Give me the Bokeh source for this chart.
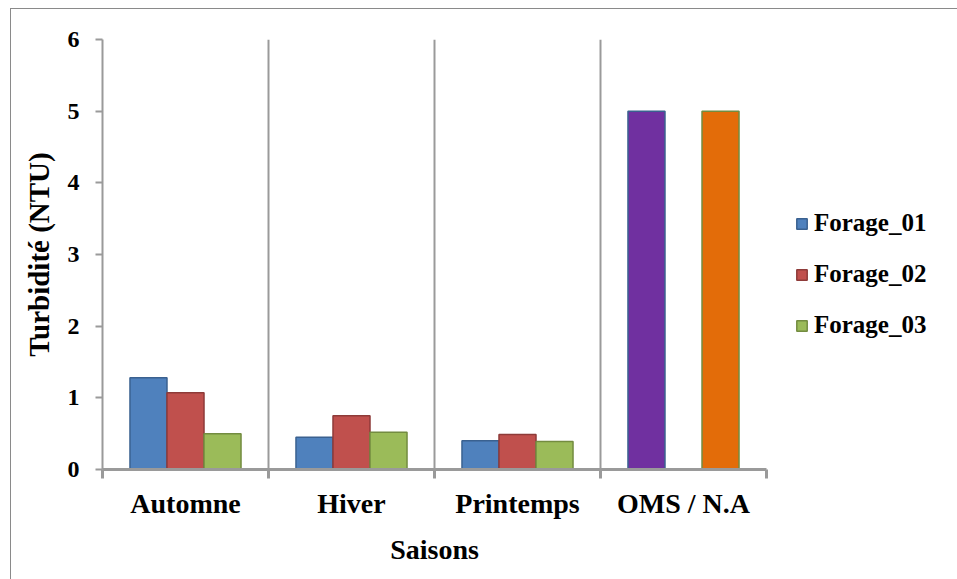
from bokeh.plotting import figure
from bokeh.models import (ColumnDataSource, Range1d, FixedTicker, Legend, LegendItem)
from bokeh.embed import file_html
from bokeh.resources import INLINE

categories = ["Automne", "Hiver", "Printemps", "OMS / N.A"]
seasons = ["Automne", "Hiver", "Printemps"]
forage_01 = [1.28, 0.45, 0.40]
forage_02 = [1.07, 0.75, 0.49]
forage_03 = [0.50, 0.52, 0.39]
norm_labels = ["OMS", "N.A"]
norm_values = [5, 5]
y_ticks = [0, 1, 2, 3, 4, 5, 6]

FONT = "Liberation Serif"
BAR_W = 0.223
GRAY = "#9a9a9a"

p = figure(frame_width=664, frame_height=430, x_range=Range1d(0, 4), y_range=Range1d(0, 6),
           output_backend="svg", toolbar_location=None,
           min_border_left=91, min_border_right=190, min_border_top=30, min_border_bottom=110)
p.margin = (8, 0, 0, 10)
p.styles = {"border-top": "1px solid #8a8a8a", "border-left": "1px solid #8a8a8a"}
p.outline_line_color = None
p.background_fill_color = "white"

series = [("Forage_01", forage_01, -BAR_W, "#4F81BD", "#3A6190"),
          ("Forage_02", forage_02, 0.0, "#C0504D", "#8E3B39"),
          ("Forage_03", forage_03, BAR_W, "#9BBB59", "#738C40")]
items = []
for name, vals, off, fc, lc in series:
    xs = [categories.index(c) + 0.5 + off for c in seasons]
    src = ColumnDataSource(dict(x=xs, top=vals))
    r = p.vbar(x="x", top="top", width=BAR_W, bottom=0, source=src,
               fill_color=fc, line_color=lc, line_width=1.5)
    items.append(LegendItem(label=name, renderers=[r]))

# norms in the last category: OMS at the first slot, N.A at the third slot
oms_i = categories.index("OMS / N.A")
norm_src = ColumnDataSource(dict(
    x=[oms_i + 0.5 - BAR_W, oms_i + 0.5 + BAR_W], top=norm_values,
    fc=["#7030A0", "#E36C09"], lc=["#3A6190", "#738C40"], lab=norm_labels))
p.vbar(x="x", top="top", width=BAR_W, bottom=0, source=norm_src,
       fill_color="fc", line_color="lc", line_width=1.5)

# axes
p.xaxis.ticker = FixedTicker(ticks=[i + 0.5 for i in range(len(categories))],
                             minor_ticks=list(range(len(categories) + 1)))
p.xaxis.major_label_overrides = {i + 0.5: c for i, c in enumerate(categories)}
p.xaxis.major_tick_line_color = None
p.xaxis.minor_tick_line_color = GRAY
p.xaxis.minor_tick_line_width = 3
p.xaxis.minor_tick_out = 9
p.xaxis.minor_tick_in = 0
p.xaxis.axis_line_color = GRAY
p.xaxis.axis_line_width = 3
p.xaxis.major_label_text_font = FONT
p.xaxis.major_label_text_font_style = "bold"
p.xaxis.major_label_text_font_size = "28px"
p.xaxis.major_label_text_color = "black"
p.xaxis.major_label_standoff = 9
p.xaxis.axis_label = "Saisons"
p.xaxis.axis_label_text_font = FONT
p.xaxis.axis_label_text_font_style = "bold"
p.xaxis.axis_label_text_font_size = "28px"
p.xaxis.axis_label_text_color = "black"
p.xaxis.axis_label_standoff = 12

p.yaxis.ticker = FixedTicker(ticks=y_ticks, minor_ticks=[])
p.yaxis.axis_line_color = GRAY
p.yaxis.axis_line_width = 2
p.yaxis.major_tick_line_color = GRAY
p.yaxis.major_tick_line_width = 2
p.yaxis.major_tick_out = 7
p.yaxis.major_tick_in = 0
p.yaxis.minor_tick_line_color = None
p.yaxis.major_label_text_font = FONT
p.yaxis.major_label_text_font_style = "bold"
p.yaxis.major_label_text_font_size = "24px"
p.yaxis.major_label_text_color = "black"
p.yaxis.major_label_standoff = 16
p.yaxis.axis_label = "Turbidité (NTU)"
p.yaxis.axis_label_text_font = FONT
p.yaxis.axis_label_text_font_style = "bold"
p.yaxis.axis_label_text_font_size = "29px"
p.yaxis.axis_label_text_color = "black"
p.yaxis.axis_label_standoff = 10

p.ygrid.grid_line_color = None
p.xgrid.ticker = FixedTicker(ticks=list(range(1, len(categories) + 1)))
p.xgrid.grid_line_color = GRAY
p.xgrid.grid_line_width = 2

legend = Legend(items=items, location=(29, 130))
legend.border_line_color = None
legend.background_fill_alpha = 0
legend.padding = 0
legend.margin = 0
legend.spacing = 23
legend.glyph_width = 13
legend.glyph_height = 13
legend.label_standoff = 6
legend.label_text_font = FONT
legend.label_text_font_style = "bold"
legend.label_text_font_size = "25px"
legend.label_text_color = "black"
p.add_layout(legend, "right")

open("out.html", "w").write(file_html(p, INLINE))
